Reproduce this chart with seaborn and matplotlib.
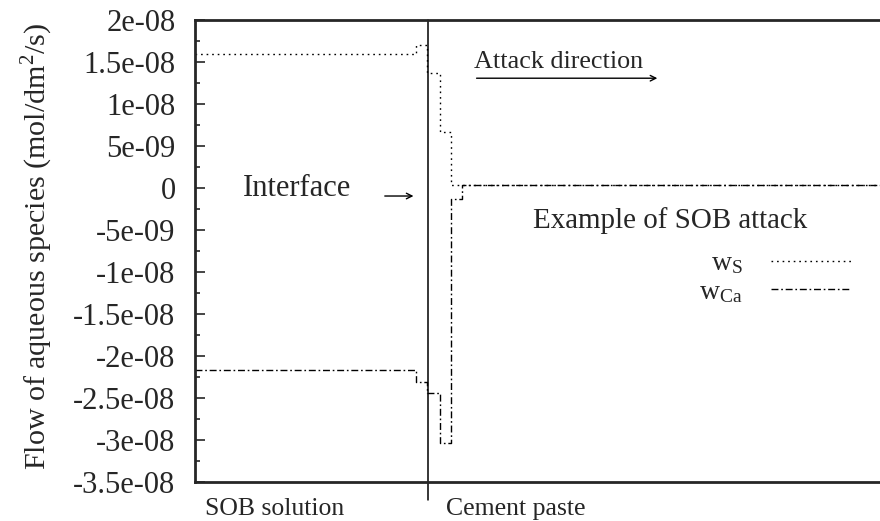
import numpy as np
import pandas as pd
import matplotlib
matplotlib.use('Agg')
import matplotlib.pyplot as plt
from matplotlib.ticker import FixedLocator, FuncFormatter
from matplotlib.lines import Line2D
import seaborn as sns

# step boundaries along the specimen (arbitrary depth units, interface at 34)
x_pos = [0, 32.2, 33.9, 35.8, 37.4, 39.0, 100]
w_s = [1.60e-8, 1.70e-8, 1.37e-8, 0.67e-8, 0.035e-8, 0.035e-8, 0.035e-8]
w_ca = [-2.17e-8, -2.31e-8, -2.44e-8, -3.04e-8, -0.13e-8, 0.035e-8, 0.035e-8]
interface_x = 34.0

y_major = [2e-8, 1.5e-8, 1e-8, 5e-9, 0, -5e-9, -1e-8, -1.5e-8,
           -2e-8, -2.5e-8, -3e-8, -3.5e-8]
y_minor = [1.75e-8, 1.25e-8, 0.75e-8, 2.5e-9, -2.5e-9, -0.75e-8, -1.25e-8,
           -1.75e-8, -2.25e-8, -2.75e-8, -3.25e-8]

sns.set_style('ticks')
plt.rcParams['font.family'] = ['Liberation Serif', 'DejaVu Serif']
plt.rcParams['mathtext.fontset'] = 'custom'
plt.rcParams['mathtext.rm'] = 'Liberation Serif'
FS = 20

df = pd.DataFrame({'x': x_pos, 'ws': w_s, 'wca': w_ca})

fig = plt.figure(figsize=(8.8, 5.21), dpi=100)
ax = fig.add_axes([0.2216, 0.0749, 0.7784, 0.8867])

sns.lineplot(data=df, x='x', y='ws', ax=ax, color='black', lw=1.0,
             linestyle=(0, (1.2, 2.8)), drawstyle='steps-post', sort=False)
sns.lineplot(data=df, x='x', y='wca', ax=ax, color='black', lw=1.0,
             linestyle=(0, (5, 2, 1.2, 2)), drawstyle='steps-post', sort=False)

ax.axvline(interface_x, ymin=-0.04, ymax=1, color='black', lw=1.1, clip_on=False)

ax.set_xlim(0, 100)
ax.set_ylim(-3.5e-8, 2e-8)
ax.set_xticks([])
ax.set_xlabel('')
ax.yaxis.set_major_locator(FixedLocator(y_major))
ax.yaxis.set_minor_locator(FixedLocator(y_minor))
ax.yaxis.set_major_formatter(FuncFormatter(lambda v, p: '0' if abs(v) < 1e-15 else f'{v:g}'))
ax.tick_params(axis='y', which='major', direction='in', length=7.5, width=1.2,
               labelsize=22, pad=14)
ax.tick_params(axis='y', which='minor', direction='in', length=3.8, width=1.2)
for s in ['left', 'top', 'bottom']:
    ax.spines[s].set_linewidth(2.0)
ax.spines['right'].set_visible(False)

ax.set_ylabel('Flow of aqueous species (mol/dm$^2$/s)', fontsize=21.6)
ax.yaxis.set_label_coords(-0.205, 0.51)

# annotations
ax.text(0.070, 0.636, 'Interface', transform=ax.transAxes, fontsize=22,
        va='center', ha='left')
ax.annotate('', xy=(0.323, 0.619), xytext=(0.273, 0.619), xycoords='axes fraction',
            arrowprops=dict(arrowstyle='->', color='black', lw=1.0))
ax.text(0.407, 0.896, 'Attack direction', transform=ax.transAxes, fontsize=18.8,
        va='baseline', ha='left')
ax.annotate('', xy=(0.679, 0.874), xytext=(0.407, 0.874), xycoords='axes fraction',
            arrowprops=dict(arrowstyle='->', color='black', lw=1.0))
ax.text(0.493, 0.55, 'Example of SOB attack', transform=ax.transAxes, fontsize=20.9,
        va='baseline', ha='left')
ax.text(0.0146, -0.072, 'SOB solution', transform=ax.transAxes, fontsize=18.5,
        va='baseline', ha='left')
ax.text(0.367, -0.072, 'Cement paste', transform=ax.transAxes, fontsize=18.5,
        va='baseline', ha='left')

handles = [Line2D([], [], color='black', lw=1.0, linestyle=(0, (1.2, 2.8))),
           Line2D([], [], color='black', lw=1.0, linestyle=(0, (5, 2, 1.2, 2)))]
ax.legend(handles, [r'$\mathrm{w_S}$', r'$\mathrm{w_{Ca}}$'], loc='upper right',
          bbox_to_anchor=(0.958, 0.50), frameon=False, markerfirst=False,
          fontsize=FS, handlelength=2.9, handletextpad=1.0, labelspacing=0.12,
          borderaxespad=0, borderpad=0)

fig.savefig('out.png', dpi=100)
